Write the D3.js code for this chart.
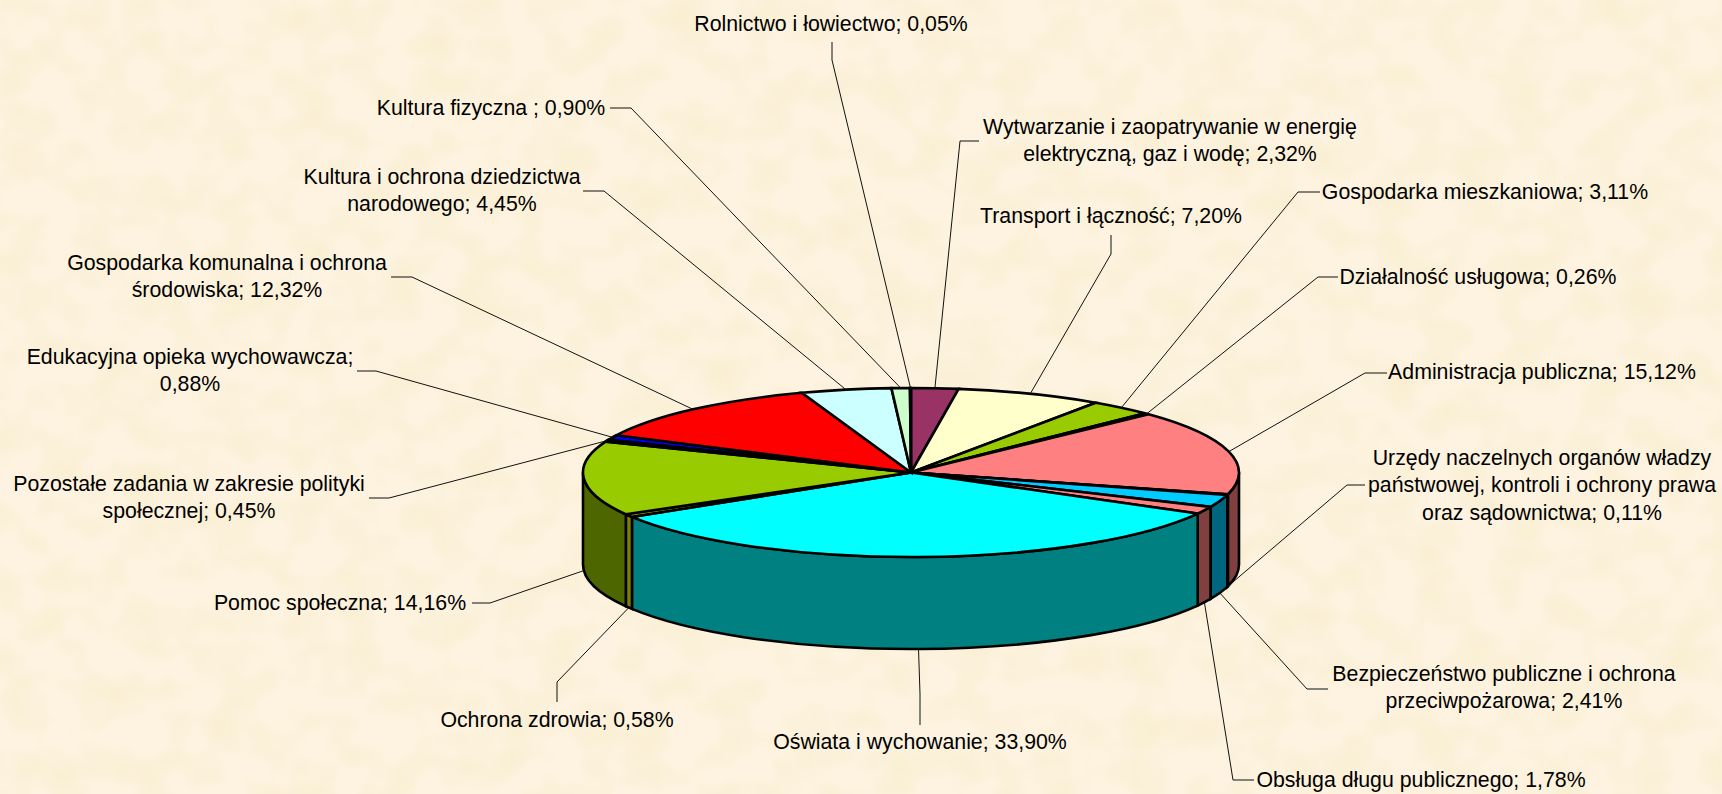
<!DOCTYPE html>
<html>
<head>
<meta charset="utf-8">
<script src="https://cdn.jsdelivr.net/npm/d3@7"></script>
<style>
html, body { margin: 0; padding: 0; background: #fbf1dd; overflow: hidden; }
svg { display: block; }
text { font-family: "Liberation Sans", Arial, sans-serif; font-size: 21.3px; fill: #000; }
</style>
</head>
<body>
<script>
// slices clockwise from 12 o'clock
const names = ["Wytwarzanie", "Transport", "Mieszkaniowa", "Uslugowa", "Administracja", "Urzedy", "Bezpieczenstwo",
    "Obsluga", "Oswiata", "Zdrowie", "Pomoc", "Pozostale", "Edukacyjna", "Komunalna", "Kultura", "Fizyczna", "Rolnictwo"];

// shares as drawn (a few differ slightly from the printed labels)
const shares = [2.32, 7.20, 3.11, 0.26, 16.25, 0.11, 2.41, 1.40, 33.10, 0.58, 14.16, 0.45, 0.88, 12.32, 4.45, 0.90, 0.05];

const topColors = ["#993366", "#ffffcc", "#99cc00", "#ccffff", "#ff8080", "#ffcc99", "#00ccff", "#ff8080", "#00ffff",
    "#b3b300", "#99cc00", "#800000", "#0000ff", "#ff0000", "#ccffff", "#ccffcc", "#ffffff"];
const sideColors = ["#4d1933", "#808066", "#4d6600", "#668080", "#804040", "#806640", "#006680", "#804040", "#008080",
    "#808000", "#4d6600", "#400000", "#000080", "#800000", "#668080", "#668066", "#808080"];

const labelLines = [
    ["Wytwarzanie i zaopatrywanie w energię", "elektryczną, gaz i wodę; 2,32%"],
    ["Transport i łączność; 7,20%"],
    ["Gospodarka mieszkaniowa; 3,11%"],
    ["Działalność usługowa; 0,26%"],
    ["Administracja publiczna; 15,12%"],
    ["Urzędy naczelnych organów władzy", "państwowej, kontroli i ochrony prawa", "oraz sądownictwa; 0,11%"],
    ["Bezpieczeństwo publiczne i ochrona", "przeciwpożarowa; 2,41%"],
    ["Obsługa długu publicznego; 1,78%"],
    ["Oświata i wychowanie; 33,90%"],
    ["Ochrona zdrowia; 0,58%"],
    ["Pomoc społeczna; 14,16%"],
    ["Pozostałe zadania w zakresie polityki", "społecznej; 0,45%"],
    ["Edukacyjna opieka wychowawcza;", "0,88%"],
    ["Gospodarka komunalna i ochrona", "środowiska; 12,32%"],
    ["Kultura i ochrona dziedzictwa", "narodowego; 4,45%"],
    ["Kultura fizyczna ; 0,90%"],
    ["Rolnictwo i łowiectwo; 0,05%"]
];

// label placement: centre x, first baseline
const labelX = [1170, 1111, 1485, 1478, 1542, 1542, 1504, 1421, 920, 557, 340, 189, 190, 227, 442, 491, 831];
const labelY = [134, 223, 199, 284, 379, 465, 681, 787, 749, 727, 610, 491, 364, 270, 184, 115, 31];

// leader line start points, the last point comes from the slice itself
const leaders = [
    [[979, 141], [960, 141]],
    [[1111, 235], [1111, 254]],
    [[1320, 192], [1298, 192]],
    [[1338, 277], [1318, 277]],
    [[1387, 373], [1365, 373]],
    [[1365, 485], [1347, 485]],
    [[1328, 689], [1307, 689]],
    [[1254, 780], [1233, 780]],
    [[920, 725], [920, 694]],
    [[557, 702], [557, 682]],
    [[472, 603], [490, 603]],
    [[369, 498], [389, 498]],
    [[357, 371], [376, 371]],
    [[391, 277], [412, 277]],
    [[583, 191], [604, 191]],
    [[610, 108], [631, 108]],
    [[832, 42], [832, 60]]
];

const width = 1722, height = 794;
const cx = 911, cy = 472.5, rx = 328, ry = 84.5, depth = 92;

const svg = d3.select("body").append("svg")
    .attr("width", width)
    .attr("height", height);

// paper texture
const defs = svg.append("defs");
const paper = defs.append("filter").attr("id", "paper")
    .attr("x", 0).attr("y", 0).attr("width", "100%").attr("height", "100%");
paper.append("feTurbulence")
    .attr("type", "fractalNoise")
    .attr("baseFrequency", "0.024 0.028")
    .attr("numOctaves", 2)
    .attr("seed", 7);
paper.append("feColorMatrix")
    .attr("type", "matrix")
    .attr("values", "0 0 0 0 0.93  0 0 0 0 0.84  0 0 0 0 0.58  1.3 0 0 0 -0.5");

svg.append("rect").attr("width", width).attr("height", height).attr("fill", "#fdf3e0");
svg.append("rect").attr("width", width).attr("height", height).attr("filter", "url(#paper)");

const pie = d3.pie().sort(null).value(d => d);
const slices = pie(shares);

const arc = d3.arc().innerRadius(0).outerRadius(rx);

// point on the rim of the ellipse, angle as in d3.pie
const rim = (a, dy) => [cx + rx * Math.sin(a), cy - ry * Math.cos(a) + dy];

function sidePath(a0, a1) {
    const p0 = rim(a0, 0), p1 = rim(a1, 0), q1 = rim(a1, depth), q0 = rim(a0, depth);
    return "M" + p0 + "A" + rx + " " + ry + " 0 0 1 " + p1 +
        "L" + q1 + "A" + rx + " " + ry + " 0 0 0 " + q0 + "Z";
}

// only the front half of the wall is seen
const front = slices
    .map((d, i) => ({
        i: i,
        a0: Math.max(d.startAngle, Math.PI / 2),
        a1: Math.min(d.endAngle, Math.PI * 3 / 2)
    }))
    .filter(d => d.a1 > d.a0);

svg.append("g").selectAll("path")
    .data(front)
    .enter()
    .append("path")
    .attr("d", d => sidePath(d.a0, d.a1))
    .attr("fill", d => sideColors[d.i])
    .attr("stroke", "#000")
    .attr("stroke-width", 2.6);

svg.append("g")
    .attr("transform", "translate(" + cx + "," + cy + ") scale(1," + ry / rx + ")")
    .selectAll("path")
    .data(slices)
    .enter()
    .append("path")
    .attr("d", arc)
    .attr("fill", (d, i) => topColors[i])
    .attr("stroke", "#000")
    .attr("stroke-width", 2.6)
    .attr("vector-effect", "non-scaling-stroke");

// leader lines
const line = d3.line();
svg.append("g").selectAll("path")
    .data(slices)
    .enter()
    .append("path")
    .attr("d", (d, i) => {
        const mid = (d.startAngle + d.endAngle) / 2;
        const seen = mid > Math.PI / 2 && mid < Math.PI * 3 / 2;
        return line(leaders[i].concat([rim(mid, seen ? depth : 0)]));
    })
    .attr("fill", "none")
    .attr("stroke", "#111")
    .attr("stroke-width", 1);

// labels
const labels = svg.append("g").selectAll("text")
    .data(labelLines)
    .enter()
    .append("text")
    .attr("text-anchor", "middle");

labels.selectAll("tspan")
    .data((d, i) => d.map((s, k) => ({ s: s, x: labelX[i], y: labelY[i] + k * 27.3 })))
    .enter()
    .append("tspan")
    .attr("x", d => d.x)
    .attr("y", d => d.y)
    .text(d => d.s);
</script>
</body>
</html>
